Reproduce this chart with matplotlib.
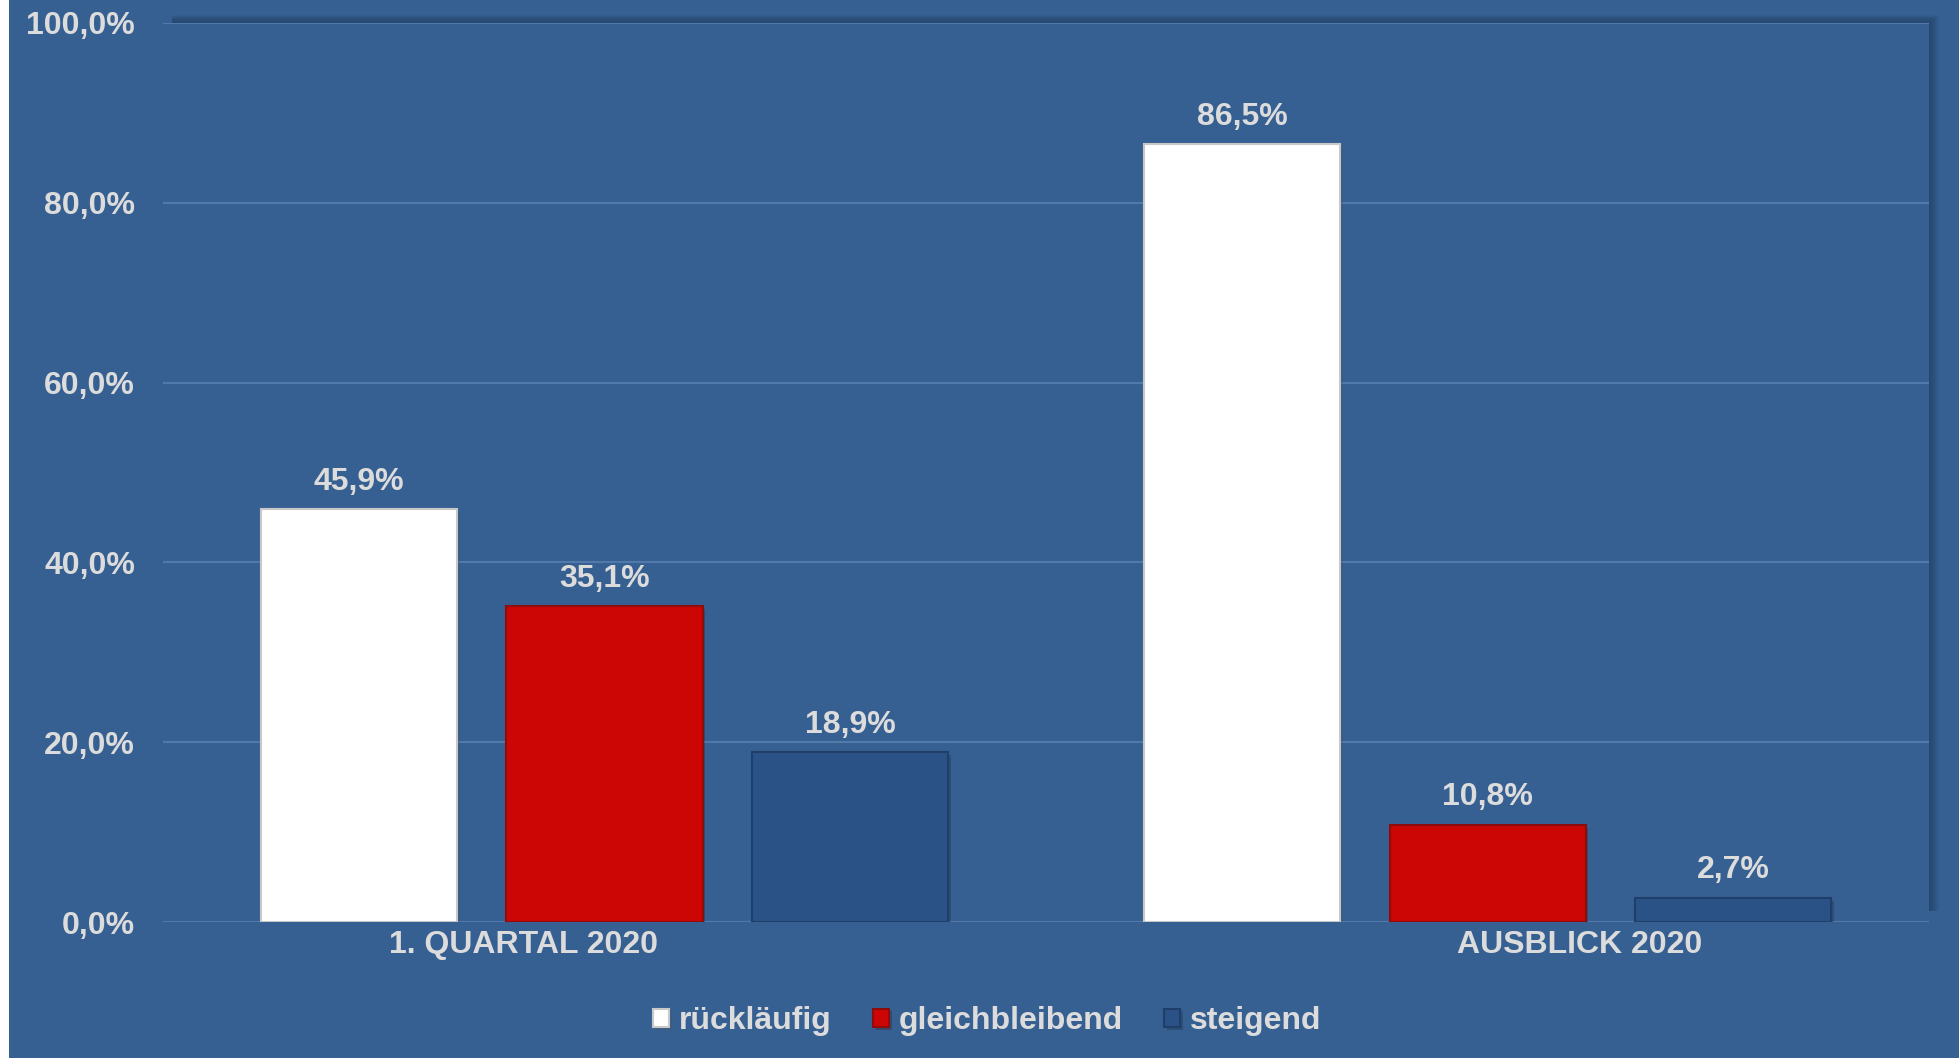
import numpy as np
import matplotlib
matplotlib.use('Agg')
from matplotlib import pyplot as plt
from matplotlib.patches import Rectangle
import matplotlib.patheffects as pe

plt.rcParams['font.family'] = ['Liberation Sans', 'DejaVu Sans']
plt.rcParams['font.weight'] = 'bold'

#---- Data

categories = ['1. QUARTAL 2020', 'AUSBLICK 2020']
series = ['rückläufig', 'gleichbleibend', 'steigend']
ruecklaeufig = [45.9, 86.5]
gleichbleibend = [35.1, 10.8]
steigend = [18.9, 2.7]
yticks = [0, 20, 40, 60, 80, 100]

#---- Style

bg = '#376092'
txt = '#DCDCDC'
grid = '#5179AA'
fills = ['#FFFFFF', '#CC0605', '#2A5287']
edges = ['#C8C8C8', '#8E0C0C', '#1F3F6A']


def fmt(v):
    return f'{v:.1f}%'.replace('.', ',')


#---- Script

if __name__ == '__main__':

    fig = plt.figure(figsize=(19.59, 10.58), dpi=100, facecolor=bg)
    x0, y0, w, h = 0.0832, 0.1285, 0.9015, 0.8498
    ax = fig.add_axes([x0, y0, w, h])
    ax.set_facecolor(bg)

    # white strip on the left edge
    fig.patches.append(Rectangle((0, 0), 0.0046, 1, transform=fig.transFigure,
                                 facecolor='white', edgecolor='none', zorder=-2))

    # soft drop shadow of the plot area (top and right)
    for k in range(7):
        dx = (k + 1) * 1.2 / 1959
        dy = (k + 1) * 1.2 / 1058
        fig.patches.append(Rectangle((x0 + 0.004 + dx * 0.2, y0 + 0.01),
                                     w - 0.004 + dx, h - 0.01 + dy,
                                     transform=fig.transFigure,
                                     facecolor='#142845', edgecolor='none',
                                     alpha=0.07, zorder=-1))

    x = np.arange(len(categories))
    step = 0.278
    width = 0.222
    data = [ruecklaeufig, gleichbleibend, steigend]

    for i, (name, vals) in enumerate(zip(series, data)):
        pos = x + (i - 1) * step
        ax.bar(pos, vals, width=width, color=fills[i], edgecolor=edges[i],
               linewidth=1.5, label=name, zorder=3,
               path_effects=[pe.SimplePatchShadow(offset=(2, -2), alpha=0.25),
                             pe.Normal()])
        for p, v in zip(pos, vals):
            ax.annotate(fmt(v), (p, v), xytext=(0, 9), textcoords='offset points',
                        ha='center', va='bottom', color=txt, fontsize=23,
                        fontweight='bold', zorder=4)

    ax.set_xlim(-0.5, 1.5)
    ax.set_ylim(0, 100)
    ax.set_yticks(yticks)
    ax.set_yticklabels([fmt(t) for t in yticks])
    ax.set_xticks(x + np.array([-0.092, 0.104]))
    ax.set_xticklabels(categories)

    ax.tick_params(axis='y', length=0, pad=20, labelsize=23, labelcolor=txt)
    ax.tick_params(axis='x', length=0, pad=6, labelsize=23, labelcolor=txt)
    for lab in ax.get_xticklabels() + ax.get_yticklabels():
        lab.set_fontweight('bold')

    ax.grid(axis='y', color=grid, linewidth=1.5, zorder=1)
    ax.set_axisbelow(True)
    for s in ax.spines.values():
        s.set_visible(False)

    leg = fig.legend(loc='center', bbox_to_anchor=(0.504, 0.035), ncol=3,
                     frameon=False, handlelength=0.5, handleheight=0.5,
                     handletextpad=0.3, columnspacing=1.3,
                     prop={'weight': 'bold', 'size': 23})
    for t in leg.get_texts():
        t.set_color(txt)

    fig.savefig('out.png', dpi=100, facecolor=bg)
